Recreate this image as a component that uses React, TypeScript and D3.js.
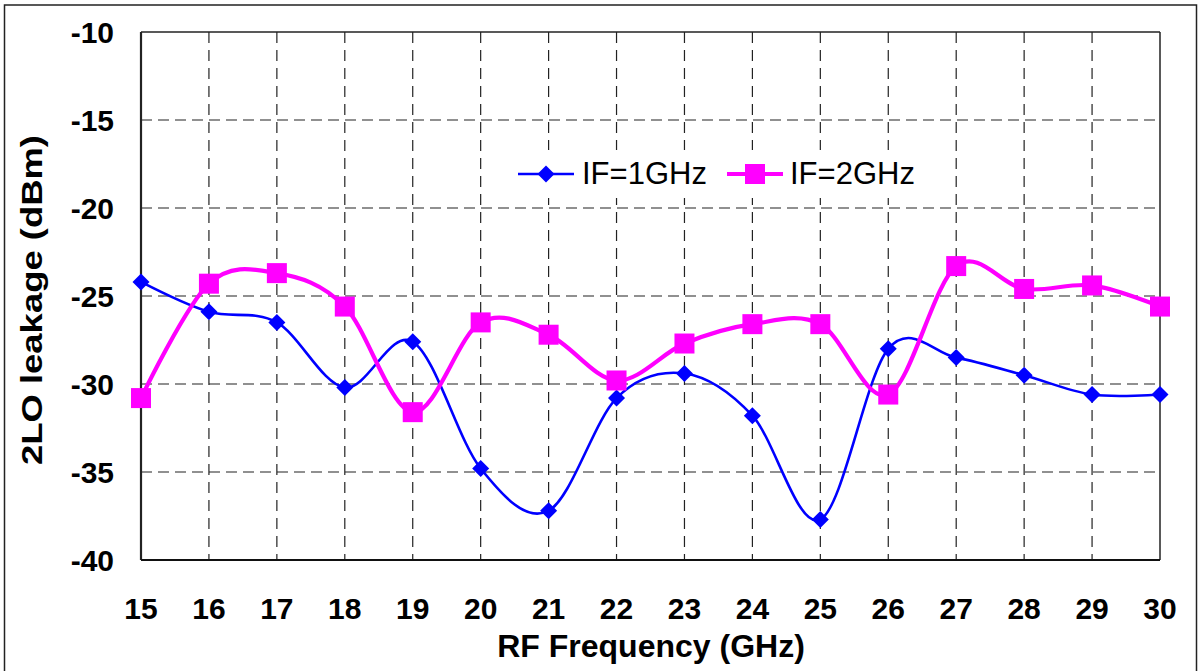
import React from "react";
import * as d3 from "d3";

// RF frequency sweep (GHz)
const frequencies = [15, 16, 17, 18, 19, 20, 21, 22, 23, 24, 25, 26, 27, 28, 29, 30];
// 2LO leakage (dBm) for each IF setting
const leakageIF1 = [-24.2, -25.9, -26.5, -30.2, -27.6, -34.8, -37.2, -30.8, -29.4, -31.8, -37.7, -28.0, -28.5, -29.5, -30.6, -30.6];
const leakageIF2 = [-30.8, -24.3, -23.7, -25.6, -31.6, -26.5, -27.2, -29.8, -27.7, -26.6, -26.6, -30.6, -23.3, -24.6, -24.4, -25.6];
const yTicks = [-10, -15, -20, -25, -30, -35, -40];
const seriesNames = ["IF=1GHz", "IF=2GHz"];

const W = 1199;
const H = 671;
const plot = { left: 141, right: 1160, top: 32, bottom: 560 };

export default function App() {
  const x = d3.scaleLinear().domain([15, 30]).range([plot.left, plot.right]);
  const y = d3.scaleLinear().domain([-40, -10]).range([plot.bottom, plot.top]);

  const line = d3
    .line<[number, number]>()
    .x((d) => x(d[0]))
    .y((d) => y(d[1]))
    .curve(d3.curveCardinal.tension(0));

  const pts1 = frequencies.map((f, i) => [f, leakageIF1[i]] as [number, number]);
  const pts2 = frequencies.map((f, i) => [f, leakageIF2[i]] as [number, number]);

  const blue = "#0000FF";
  const magenta = "#FF00FF";
  const font = "Liberation Sans, Arial, sans-serif";
  const dia = 8.5;
  const sq = 10;

  const diamond = (cx: number, cy: number, r: number) =>
    `M${cx},${cy - r}L${cx + r},${cy}L${cx},${cy + r}L${cx - r},${cy}Z`;

  return (
    <svg
      width={W}
      height={H}
      style={{ position: "absolute", left: 0, top: 0, background: "#fff" }}
    >
      {/* outer frame */}
      <rect x={4.5} y={5} width={1192} height={680} fill="none" stroke="#222" strokeWidth={1.5} />

      {/* dashed grid */}
      {frequencies.slice(1, -1).map((f) => (
        <line
          key={"gx" + f}
          x1={x(f)}
          x2={x(f)}
          y1={plot.top}
          y2={plot.bottom}
          stroke="#222"
          strokeWidth={1.2}
          strokeDasharray="11,7"
        />
      ))}
      {yTicks.slice(1, -1).map((t) => (
        <line
          key={"gy" + t}
          x1={plot.left}
          x2={plot.right}
          y1={y(t)}
          y2={y(t)}
          stroke="#222"
          strokeWidth={1.2}
          strokeDasharray="11,6"
        />
      ))}

      {/* plot frame */}
      <line x1={plot.left} x2={plot.right} y1={plot.top} y2={plot.top} stroke="#222" strokeWidth={1.5} />
      <line x1={plot.right} x2={plot.right} y1={plot.top} y2={plot.bottom} stroke="#222" strokeWidth={1.5} />
      <line x1={plot.left} x2={plot.left} y1={plot.top} y2={plot.bottom} stroke="#222" strokeWidth={2.2} />
      <line x1={plot.left} x2={plot.right} y1={plot.bottom} y2={plot.bottom} stroke="#111" strokeWidth={2.2} />

      {/* y tick labels */}
      {yTicks.map((t) => (
        <text
          key={"yt" + t}
          x={114}
          y={y(t) + 11}
          textAnchor="end"
          fontFamily={font}
          fontWeight="bold"
          fontSize={30}
          fill="#000"
        >
          {t}
        </text>
      ))}

      {/* x tick labels */}
      {frequencies.map((f) => (
        <text
          key={"xt" + f}
          x={x(f)}
          y={619}
          textAnchor="middle"
          fontFamily={font}
          fontWeight="bold"
          fontSize={30}
          fill="#000"
        >
          {f}
        </text>
      ))}

      {/* axis titles */}
      <text
        x={651}
        y={657}
        textAnchor="middle"
        fontFamily={font}
        fontWeight="bold"
        fontSize={32}
        fill="#000"
      >
        RF Frequency (GHz)
      </text>
      <text
        transform={`translate(42,300) rotate(-90)`}
        textAnchor="middle"
        fontFamily={font}
        fontWeight="bold"
        fontSize={30}
        textLength={330}
        lengthAdjust="spacingAndGlyphs"
        fill="#000"
      >
        2LO leakage (dBm)
      </text>

      {/* IF=1GHz series */}
      <path d={line(pts1) ?? ""} fill="none" stroke={blue} strokeWidth={2.6} />
      {pts1.map((p, i) => (
        <path key={"d" + i} d={diamond(x(p[0]), y(p[1]), dia)} fill={blue} />
      ))}

      {/* IF=2GHz series */}
      <path d={line(pts2) ?? ""} fill="none" stroke={magenta} strokeWidth={4.2} />
      {pts2.map((p, i) => (
        <rect
          key={"s" + i}
          x={x(p[0]) - sq}
          y={y(p[1]) - sq}
          width={sq * 2}
          height={sq * 2}
          fill={magenta}
        />
      ))}

      {/* legend */}
      <rect x={506} y={150} width={420} height={48} fill="#fff" />
      <line x1={518} x2={574} y1={174} y2={174} stroke={blue} strokeWidth={2.6} />
      <path d={diamond(546, 174, dia)} fill={blue} />
      <text x={582} y={184} fontFamily={font} fontSize={31} fill="#000">
        {seriesNames[0]}
      </text>
      <line x1={727} x2={783} y1={174} y2={174} stroke={magenta} strokeWidth={4.2} />
      <rect x={755 - sq} y={174 - sq} width={sq * 2} height={sq * 2} fill={magenta} />
      <text x={790} y={184} fontFamily={font} fontSize={31} fill="#000">
        {seriesNames[1]}
      </text>
    </svg>
  );
}
